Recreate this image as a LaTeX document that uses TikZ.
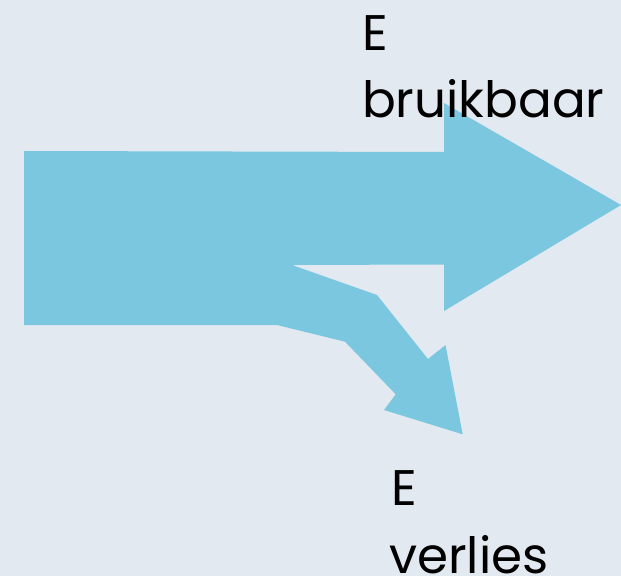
\documentclass[tikz,border=0pt]{standalone}
\usepackage{fontspec}
\setmainfont{Poppins}
\definecolor{bgc}{HTML}{E2E9F0}
\definecolor{arrowc}{HTML}{7CC7E0}
\begin{document}
\begin{tikzpicture}[x=1pt,y=-1pt,
  lbl/.style={anchor=base west,inner sep=0pt,outer sep=0pt,font=\fontsize{50}{67}\selectfont,text=black}]
\fill[bgc] (0,0) rectangle (621,576);
\useasboundingbox (0,0) rectangle (621,576);
\fill[arrowc] (24,151) -- (444,152) -- (444,103) -- (621,205) -- (444,311) -- (444,264.5)
  -- (292,265) -- (377,295) -- (428,359) -- (445.5,345) -- (462.7,434.3) -- (384,410)
  -- (395.7,394.3) -- (345,341.7) -- (277,325) -- (24,325) -- cycle;
\node[lbl] (e1) at (362,50) {E};
\node[lbl] (b1) at (362,117) {bruikbaar};
\node[lbl] (e2) at (391,505) {E};
\node[lbl] (v2) at (389,573) {verlies};
\end{tikzpicture}
\end{document}
